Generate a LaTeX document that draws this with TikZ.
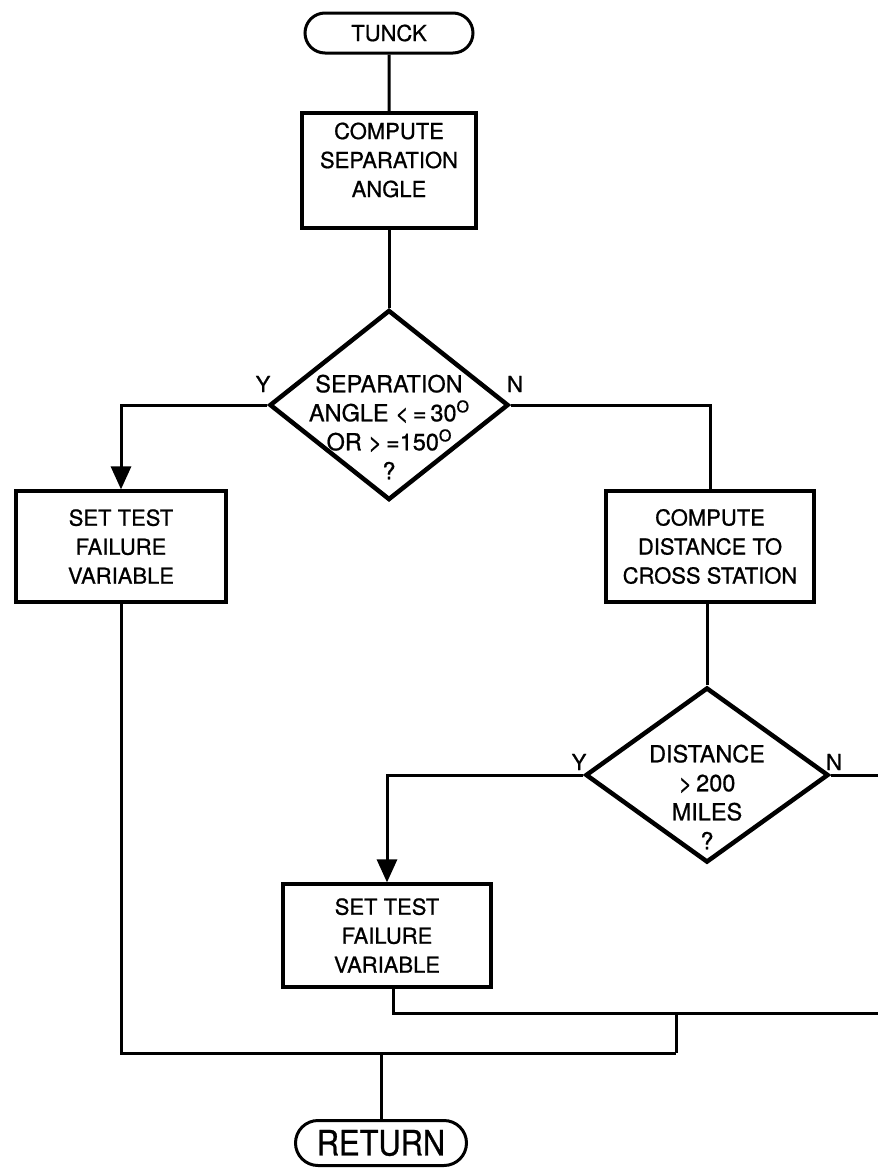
\documentclass[tikz,border=0pt]{standalone}
\usepackage{fontspec}
\setmainfont{TeX Gyre Heros}[FakeBold=0.8]
\usetikzlibrary{shapes.geometric,shapes.misc,arrows.meta,calc}

\newcommand{\degmark}{\raisebox{9pt}{\fontsize{16}{16}\selectfont O}}

\begin{document}
\begin{tikzpicture}[x=1pt,y=-1pt,
  every node/.style={font=\fontsize{22}{29}\selectfont},
  txt/.style={align=center, inner sep=0pt},
  dtxt/.style={txt, font=\fontsize{23.5}{29}\selectfont},
  procbox/.style={draw, line width=3.2pt, minimum width=#1, inner sep=0pt, align=center},
  terminal/.style={draw, rounded rectangle, line width=3pt, inner sep=0pt},
  decision/.style={draw, diamond, line width=4.5pt, inner sep=0pt},
  flow/.style={line width=3pt},
  flowarrow/.style={flow, -{Triangle[length=23pt,width=20pt]}},
  yn/.style={inner sep=0pt}
]
\useasboundingbox (0,0) rectangle (878,1170);

% start terminal
\node[terminal, minimum width=168pt, minimum height=40pt] (tunck) at (389,33) {TUNCK};

% first process box and its text
\node[procbox=174pt, minimum height=115pt] (sep) at (389,170.5) {};
\node[txt] (septxt) at (389,160) {COMPUTE\\SEPARATION\\ANGLE};

% first decision
\node[decision, minimum width=239pt, minimum height=190pt] (d1) at (389,405) {};
\node[dtxt] (d1txt) at (389,427) {SEPARATION\\ANGLE {<}\,{=}\,30\degmark\\OR {>}\,{=}150\degmark\\?};
\node[yn] (d1y) at (263,384) {Y};
\node[yn] (d1n) at (515,384) {N};

% branch boxes
\node[procbox=210pt, minimum height=111pt] (failA) at (121,546.5) {SET TEST\\FAILURE\\VARIABLE};
\node[procbox=208pt, minimum height=111pt] (dist) at (710,546.5) {COMPUTE\\DISTANCE TO\\CROSS STATION};

% second decision
\node[decision, minimum width=243pt, minimum height=175pt] (d2) at (707,775) {};
\node[dtxt] (d2txt) at (707,797) {DISTANCE\\{>}\,200\\MILES\\?};
\node[yn] (d2y) at (579,762) {Y};
\node[yn] (d2n) at (834,762) {N};

\node[procbox=208pt, minimum height=103pt] (failB) at (387,935.5) {SET TEST\\FAILURE\\VARIABLE};

% end terminal
\node[terminal, minimum width=171pt, minimum height=45pt] (ret) at (381,1143)
  {\fontsize{35}{35}\selectfont\scalebox{0.88}[1]{RETURN}};

% free ends and junctions
\coordinate (edgeN) at (878,775);
\coordinate (edgeB) at (878,1013);
\coordinate (jB) at (676,1013);
\coordinate (jM) at (676,1053);

% connectors
\draw[flow] (tunck) -- (sep);
\draw[flow] (sep) -- (d1);
\draw[flowarrow] (d1.west) -| (failA.north);
\draw[flow] (d1.east) -| (dist.north);
\draw[flow] (dist.south -| d2.north) -- (d2.north);
\draw[flowarrow] (d2.west) -| (failB.north);
\draw[flow] (d2.east) -- (edgeN);
\draw[flow] ($(failB.south)+(6,0)$) |- (edgeB);
\draw[flow] (jB) -- (jM);
\draw[flow] (failA.south) |- (jM);
\draw[flow] (ret.north |- jM) -- (ret.north);
\end{tikzpicture}
\end{document}
